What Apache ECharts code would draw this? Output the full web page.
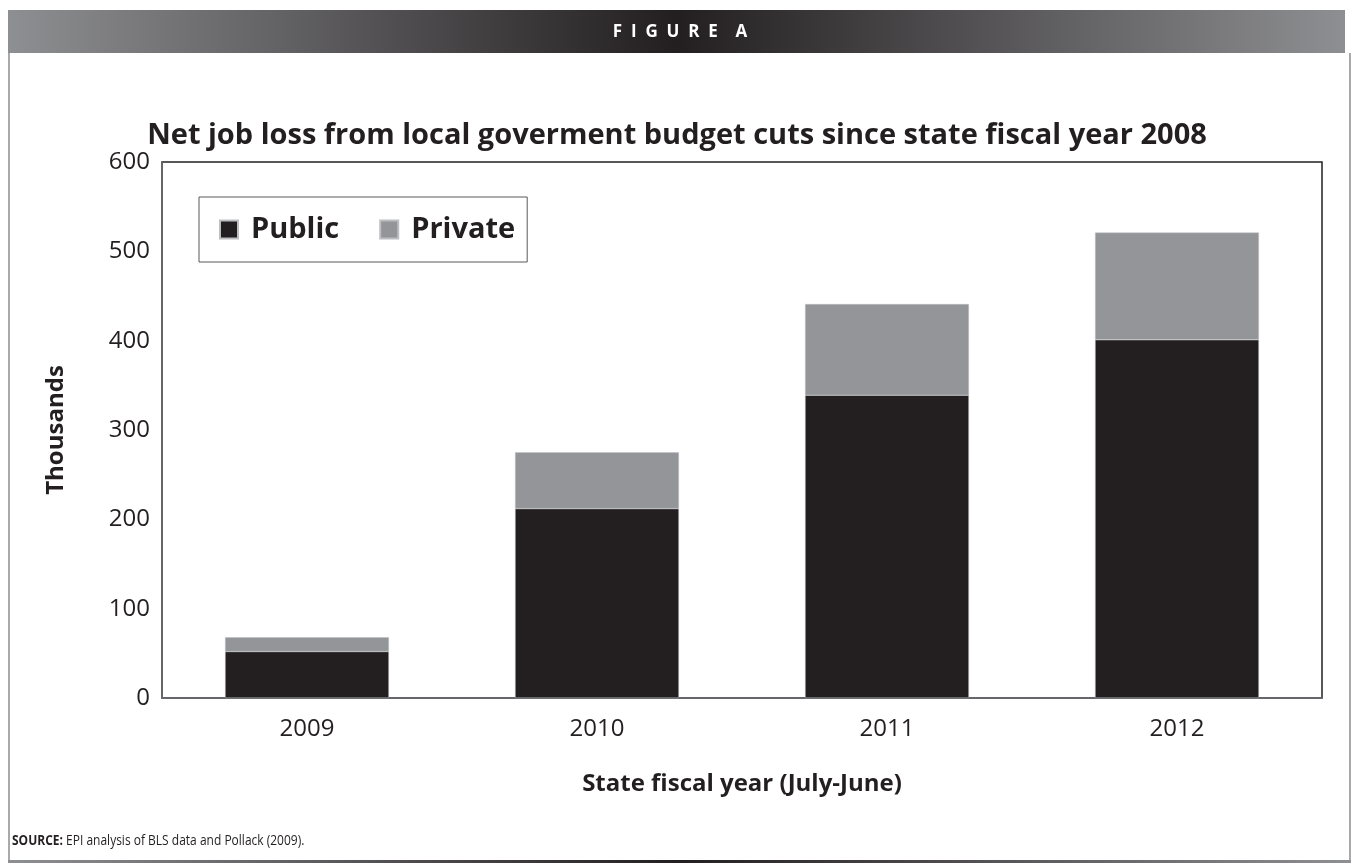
<!DOCTYPE html>
<html>
<head>
<meta charset="utf-8">
<script src="https://cdn.jsdelivr.net/npm/echarts@6/dist/echarts.min.js"></script>
<style>
  html, body { margin: 0; padding: 0; background: #fff; }
  #chart { width: 1353px; height: 863px; }
</style>
</head>
<body>
<div id="chart"></div>
<script>
// data (thousands of jobs)
const years = ['2009', '2010', '2011', '2012']
const publicJobs = [52, 212, 339, 401]
const privateJobs = [16, 63, 102, 120]
const yTicks = { min: 0, max: 600, interval: 100 }

const chart = echarts.init(document.getElementById('chart'))

// grey -> near black -> grey band used top and bottom
const edgeGradient = () => new echarts.graphic.LinearGradient(0, 0, 1, 0, [
  { offset: 0, color: '#8e8f92' },
  { offset: 0.5, color: '#231f20' },
  { offset: 1, color: '#8e8f92' }
])

const ink = '#231f20'

const option = {
  animation: false,
  textStyle: { fontFamily: '"Open Sans", "Noto Sans", sans-serif' },
  title: {
    text: 'Net job loss from local goverment budget cuts since state fiscal year 2008',
    left: 672,
    top: 116,
    textAlign: 'center',
    textStyle: { fontSize: 29, fontWeight: 'bold', color: ink }
  },
  legend: {
    left: 199,
    top: 197,
    padding: [18, 12, 18, 20],
    itemGap: 40,
    itemWidth: 18,
    itemHeight: 18,
    icon: 'rect',
    borderColor: '#58595b',
    borderWidth: 1,
    backgroundColor: '#fff',
    textStyle: { fontSize: 29, fontWeight: 'bold', color: ink, padding: [0, 0, 0, 8] },
    data: ['Public', 'Private']
  },
  grid: {
    left: 162,
    top: 162,
    right: 31,
    bottom: 165,
    show: true,
    borderColor: ink,
    borderWidth: 1.5
  },
  xAxis: {
    type: 'category',
    data: years,
    name: 'State fiscal year (July-June)',
    nameLocation: 'middle',
    nameGap: 74,
    nameTextStyle: { fontSize: 24, fontWeight: 'bold', color: ink },
    axisLine: { lineStyle: { color: '#6d6e71', width: 1.5 } },
    axisTick: { show: false },
    axisLabel: { fontSize: 24, color: ink, margin: 19 }
  },
  yAxis: {
    type: 'value',
    min: yTicks.min,
    max: yTicks.max,
    interval: yTicks.interval,
    name: 'Thousands',
    nameLocation: 'middle',
    nameGap: 94,
    nameTextStyle: { fontSize: 24, fontWeight: 'bold', color: ink },
    axisLine: { show: true, lineStyle: { color: '#6d6e71', width: 1.5 } },
    axisTick: { show: false },
    splitLine: { show: false },
    axisLabel: { fontSize: 24, color: ink, margin: 12 }
  },
  series: [
    {
      name: 'Public',
      type: 'bar',
      stack: 'jobs',
      barCategoryGap: '43.5%',
      data: publicJobs,
      itemStyle: { color: ink, borderColor: '#bcbec0', borderWidth: 0.5 }
    },
    {
      name: 'Private',
      type: 'bar',
      stack: 'jobs',
      data: privateJobs,
      itemStyle: { color: '#939598', borderColor: '#bcbec0', borderWidth: 0.5 }
    }
  ],
  graphic: [
    // header band
    {
      type: 'rect',
      shape: { x: 8, y: 10, width: 1337, height: 43 },
      style: { fill: edgeGradient() },
      silent: true
    },
    {
      type: 'text',
      x: 680,
      y: 32,
      style: {
        text: 'F  I  G  U  R  E    A',
        fill: '#fff',
        font: 'bold 17px "Open Sans", sans-serif',
        align: 'center',
        verticalAlign: 'middle'
      },
      silent: true
    },
    // side frame lines
    {
      type: 'rect',
      shape: { x: 8, y: 53, width: 2, height: 808 },
      style: { fill: '#a7a9ac' },
      silent: true
    },
    {
      type: 'rect',
      shape: { x: 1349, y: 53, width: 2, height: 808 },
      style: { fill: '#a7a9ac' },
      silent: true
    },
    // bottom band
    {
      type: 'rect',
      shape: { x: 8, y: 860, width: 1343, height: 3 },
      style: { fill: edgeGradient() },
      silent: true
    },
    // source line (condensed face in the original, so squeeze it)
    {
      type: 'text',
      x: 12,
      y: 841,
      scaleX: 0.8,
      style: {
        text: '{b|SOURCE:} EPI analysis of BLS data and Pollack (2009).',
        fill: ink,
        font: '15px "Open Sans", sans-serif',
        verticalAlign: 'middle',
        rich: {
          b: { fontWeight: 'bold', fontSize: 15, fontFamily: '"Open Sans", sans-serif', fill: ink }
        }
      },
      silent: true
    }
  ]
}

chart.setOption(option)
</script>
</body>
</html>
